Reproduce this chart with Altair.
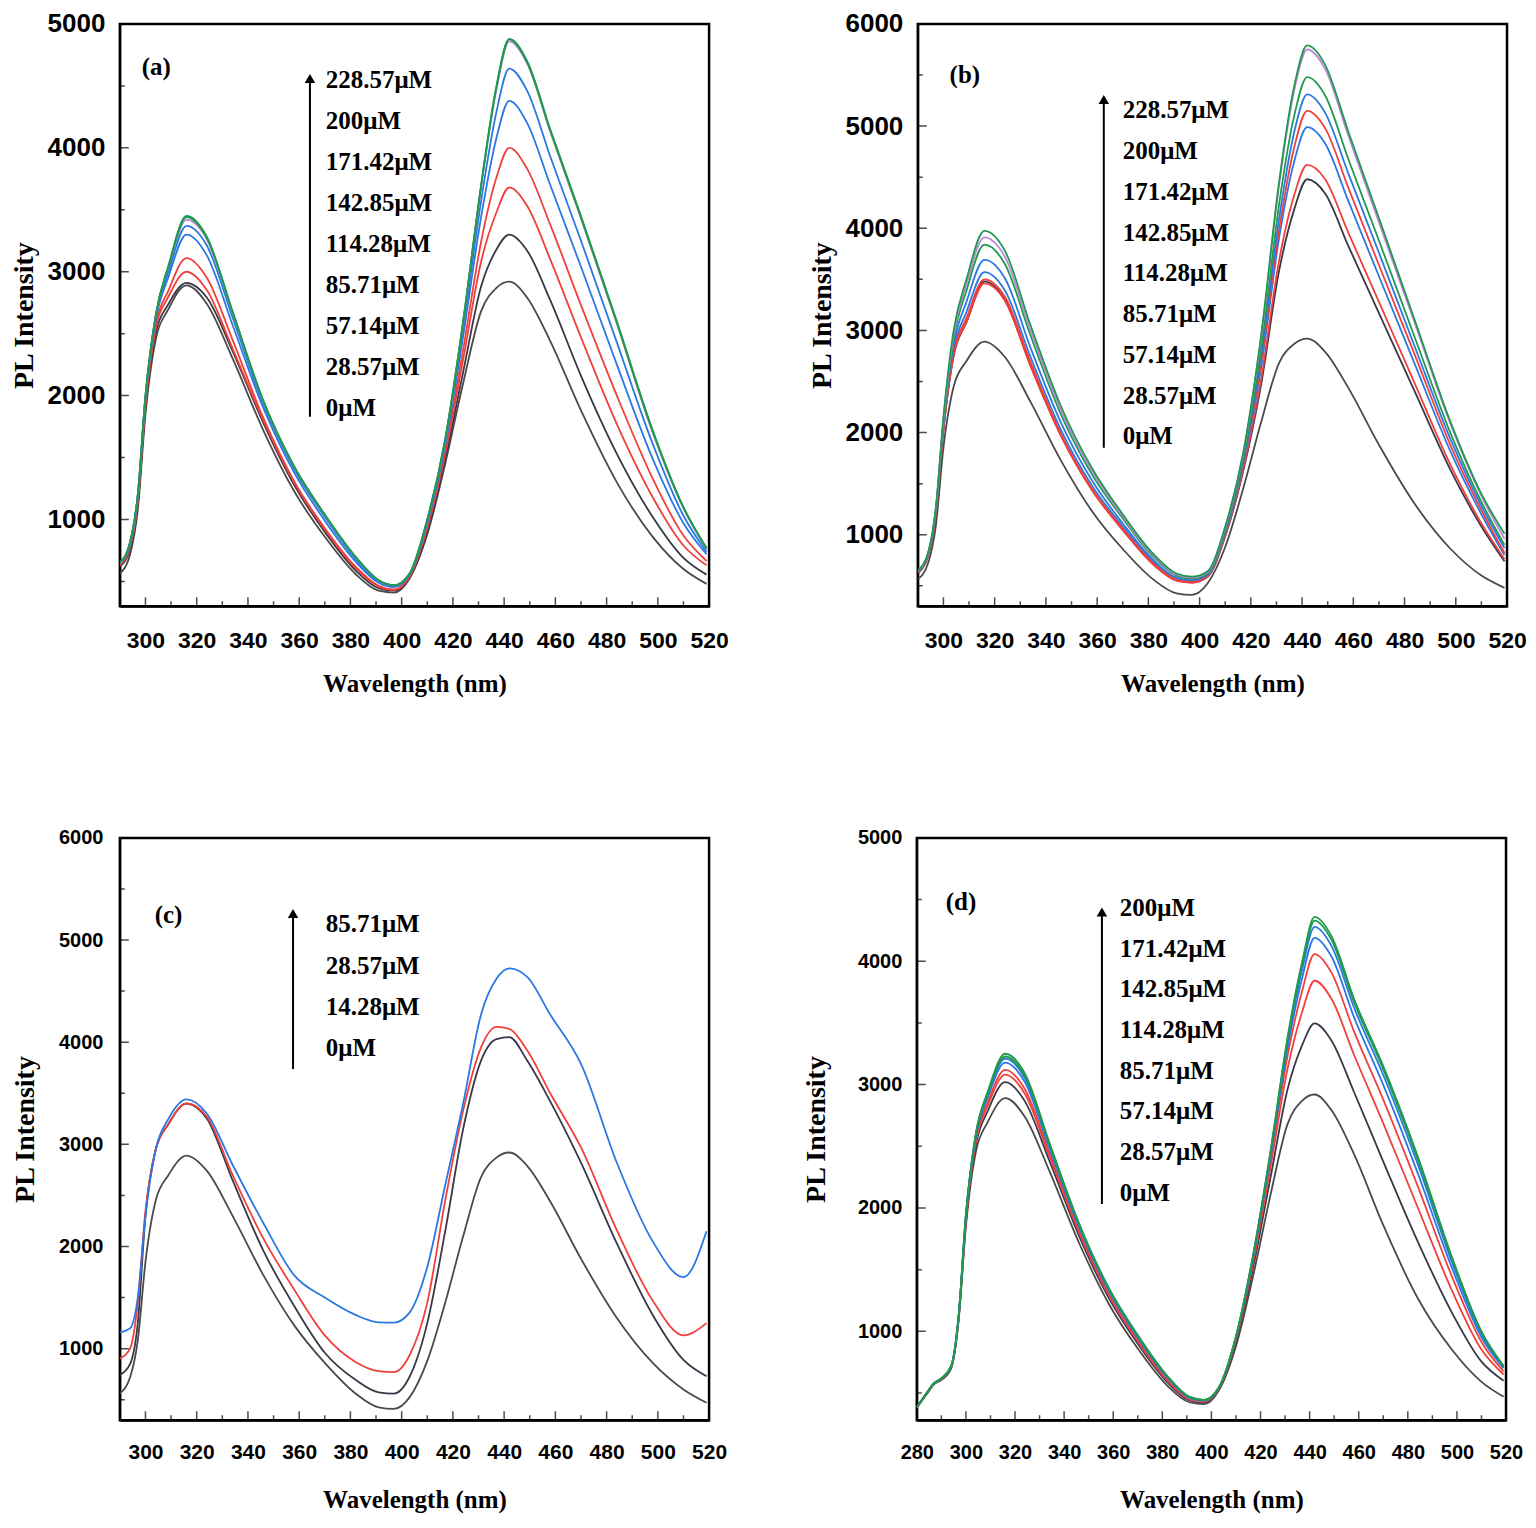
import altair as alt
import pandas as pd

# ---------------- wavelength grids (nm) ----------------
WL = [290, 294, 297, 300, 304, 309, 316, 324, 334, 346, 358, 370, 382, 391, 397, 403,
      410, 417, 424, 431, 437, 442, 449, 458, 470, 484, 498, 510, 519]
WL_D = [280, 284, 287, 290, 294, 297, 300, 304, 309, 316, 324, 334, 346, 358, 370, 382, 391, 397, 403,
        410, 417, 424, 431, 437, 442, 449, 458, 470, 484, 498, 510, 519]

# ---------------- panel (a) ----------------
A_0 = [564, 720, 1080, 1850, 2450, 2700, 2890, 2740, 2300, 1720, 1230, 860, 560, 425, 410, 520,
       880, 1450, 2100, 2680, 2870, 2920, 2790, 2440, 1880, 1300, 860, 600, 480]
A_28 = [620, 760, 1120, 1900, 2500, 2740, 2910, 2790, 2360, 1780, 1280, 900, 590, 445, 425, 530,
        900, 1490, 2190, 2880, 3180, 3300, 3170, 2770, 2160, 1530, 1020, 690, 555]
A_57 = [630, 780, 1150, 1930, 2540, 2800, 3000, 2850, 2380, 1800, 1300, 920, 610, 460, 430, 535,
        930, 1530, 2290, 3080, 3480, 3680, 3530, 3100, 2470, 1770, 1180, 790, 630]
A_85 = [640, 790, 1160, 1950, 2570, 2850, 3110, 2950, 2450, 1820, 1310, 930, 620, 465, 435, 540,
        950, 1560, 2370, 3240, 3760, 4000, 3830, 3380, 2730, 2000, 1330, 870, 665]
A_114 = [645, 800, 1180, 1980, 2610, 2960, 3300, 3130, 2570, 1900, 1380, 990, 660, 490, 455, 550,
         970, 1600, 2480, 3440, 4080, 4380, 4200, 3700, 3040, 2250, 1490, 970, 720]
A_142 = [648, 810, 1190, 1990, 2630, 3000, 3370, 3210, 2630, 1930, 1410, 1020, 680, 500, 462, 555,
         985, 1620, 2540, 3570, 4290, 4640, 4460, 3930, 3250, 2430, 1610, 1030, 740]
A_171 = [650, 815, 1195, 1995, 2645, 3040, 3420, 3260, 2670, 1950, 1425, 1035, 695, 508, 468, 558,
         995, 1640, 2590, 3680, 4470, 4860, 4680, 4130, 3430, 2580, 1700, 1090, 760]
A_200 = [650, 818, 1198, 1998, 2648, 3045, 3440, 3270, 2675, 1955, 1428, 1038, 698, 509, 469, 559,
         998, 1645, 2595, 3690, 4490, 4875, 4690, 4140, 3440, 2590, 1710, 1095, 765]
A_228 = [650, 820, 1200, 2000, 2650, 3050, 3450, 3280, 2680, 1960, 1430, 1040, 700, 510, 470, 560,
         1000, 1650, 2600, 3700, 4500, 4880, 4700, 4150, 3450, 2600, 1720, 1100, 770]

# ---------------- panel (b) ----------------
B_0 = [564, 720, 1080, 1850, 2450, 2700, 2890, 2740, 2300, 1720, 1230, 860, 560, 425, 410, 520,
       880, 1450, 2100, 2680, 2870, 2920, 2790, 2440, 1880, 1300, 860, 600, 480]
B_28 = [625, 790, 1195, 2020, 2750, 3080, 3480, 3300, 2660, 1970, 1440, 1050, 710, 552, 532, 585,
        985, 1620, 2470, 3580, 4190, 4480, 4340, 3830, 3170, 2400, 1630, 1080, 740]
B_57 = [630, 795, 1200, 2030, 2760, 3080, 3460, 3290, 2650, 1960, 1435, 1045, 705, 550, 530, 585,
        990, 1640, 2520, 3680, 4330, 4620, 4480, 3960, 3280, 2480, 1680, 1110, 760]
B_85 = [638, 805, 1220, 2060, 2810, 3180, 3570, 3390, 2740, 2020, 1480, 1080, 730, 570, 548, 600,
        1010, 1680, 2630, 3900, 4660, 4990, 4830, 4270, 3530, 2670, 1810, 1200, 800]
B_114 = [635, 800, 1210, 2040, 2780, 3120, 3500, 3330, 2690, 1980, 1450, 1060, 720, 560, 540, 595,
         1020, 1700, 2680, 3980, 4800, 5150, 4980, 4400, 3640, 2760, 1870, 1240, 820]
B_142 = [640, 810, 1230, 2080, 2860, 3280, 3690, 3510, 2830, 2090, 1530, 1110, 750, 580, 555, 605,
         1030, 1720, 2740, 4090, 4950, 5310, 5130, 4540, 3760, 2840, 1930, 1280, 870]
B_171 = [645, 815, 1240, 2110, 2920, 3390, 3840, 3650, 2950, 2170, 1590, 1160, 780, 600, 570, 620,
         1050, 1750, 2820, 4230, 5110, 5480, 5300, 4680, 3880, 2930, 1990, 1320, 900]
B_200 = [648, 818, 1245, 2130, 2960, 3450, 3910, 3720, 3000, 2210, 1620, 1180, 795, 610, 580, 630,
         1070, 1790, 2930, 4420, 5360, 5750, 5560, 4910, 4060, 3070, 2080, 1380, 960]
B_228 = [650, 820, 1250, 2150, 3000, 3500, 3975, 3780, 3050, 2250, 1650, 1200, 810, 620, 590, 640,
         1080, 1800, 2950, 4450, 5400, 5790, 5600, 4950, 4100, 3100, 2100, 1400, 1010]

# ---------------- panel (c) ----------------
C_0 = [564, 720, 1080, 1850, 2450, 2700, 2890, 2740, 2300, 1720, 1230, 860, 560, 425, 410, 520,
       880, 1450, 2100, 2680, 2870, 2920, 2790, 2440, 1880, 1300, 860, 600, 470]
C_14 = [742, 850, 1250, 2300, 2950, 3200, 3400, 3250, 2650, 1960, 1420, 960, 695, 572, 560, 720,
        1250, 2150, 3150, 3820, 4030, 4050, 3820, 3420, 2820, 2030, 1330, 890, 730]
C_28 = [903, 1000, 1450, 2350, 2950, 3200, 3400, 3270, 2700, 2080, 1580, 1130, 870, 780, 770, 930,
        1450, 2450, 3330, 3950, 4150, 4130, 3920, 3500, 2970, 2160, 1470, 1130, 1250]
C_85 = [1160, 1200, 1500, 2300, 2950, 3250, 3440, 3300, 2800, 2230, 1720, 1500, 1330, 1258, 1255, 1350,
        1800, 2600, 3400, 4272, 4620, 4723, 4640, 4270, 3788, 2820, 2050, 1700, 2150]

# ---------------- panel (d) ----------------
D_0 = [380, 490, 570, 605, 700, 1080, 1850, 2450, 2700, 2890, 2740, 2300, 1720, 1230, 860, 560, 425, 410, 520,
       880, 1450, 2100, 2680, 2870, 2920, 2790, 2440, 1860, 1270, 850, 590, 470]
D_28 = [382, 494, 574, 610, 707, 1094, 1886, 2504, 2790, 3020, 2866, 2383, 1778, 1277, 900, 589, 441, 423, 529,
        912, 1518, 2240, 2960, 3322, 3496, 3354, 2944, 2376, 1730, 1150, 754, 600]
D_57 = [383, 495, 575, 613, 711, 1101, 1903, 2530, 2833, 3081, 2926, 2422, 1805, 1299, 918, 602, 449, 429, 533,
        931, 1559, 2324, 3128, 3593, 3842, 3692, 3246, 2686, 2006, 1330, 852, 650]
D_85 = [383, 496, 576, 615, 713, 1106, 1914, 2546, 2860, 3120, 2964, 2447, 1822, 1313, 930, 611, 454, 432, 536,
        943, 1584, 2377, 3233, 3763, 4058, 3904, 3435, 2879, 2179, 1443, 914, 675]
D_114 = [384, 498, 578, 617, 716, 1112, 1930, 2570, 2900, 3178, 3020, 2484, 1848, 1334, 948, 624, 461, 438, 540,
         951, 1600, 2409, 3297, 3867, 4190, 4034, 3551, 2998, 2284, 1512, 952, 700]
D_142 = [384, 499, 579, 618, 718, 1116, 1939, 2584, 2923, 3210, 3052, 2505, 1862, 1346, 958, 631, 465, 441, 542,
         955, 1610, 2430, 3341, 3937, 4279, 4121, 3629, 3078, 2356, 1558, 977, 710]
D_171 = [385, 499, 579, 619, 719, 1118, 1944, 2591, 2935, 3228, 3069, 2516, 1870, 1352, 963, 635, 467, 443, 544,
         958, 1616, 2443, 3365, 3976, 4330, 4170, 3674, 3123, 2396, 1584, 991, 715]
D_200 = [385, 500, 580, 620, 720, 1120, 1950, 2600, 2950, 3250, 3090, 2530, 1880, 1360, 970, 640, 470, 445, 545,
         960, 1620, 2450, 3380, 4000, 4360, 4200, 3700, 3150, 2420, 1600, 1000, 720]

# ---------------- labels ----------------
LEG_A = ["228.57μM", "200μM", "171.42μM", "142.85μM", "114.28μM", "85.71μM", "57.14μM", "28.57μM", "0μM"]
LEG_B = ["228.57μM", "200μM", "171.42μM", "142.85μM", "114.28μM", "85.71μM", "57.14μM", "28.57μM", "0μM"]
LEG_C = ["85.71μM", "28.57μM", "14.28μM", "0μM"]
LEG_D = ["200μM", "171.42μM", "142.85μM", "114.28μM", "85.71μM", "57.14μM", "28.57μM", "0μM"]

X_TICKS = [300, 320, 340, 360, 380, 400, 420, 440, 460, 480, 500, 520]
X_MINOR = [290, 310, 330, 350, 370, 390, 410, 430, 450, 470, 490, 510]
X_TICKS_D = [280, 300, 320, 340, 360, 380, 400, 420, 440, 460, 480, 500, 520]
X_MINOR_D = [290, 310, 330, 350, 370, 390, 410, 430, 450, 470, 490, 510]
Y_TICKS_5 = [1000, 2000, 3000, 4000, 5000]
Y_MINOR_5 = [500, 1500, 2500, 3500, 4500]
Y_TICKS_6 = [1000, 2000, 3000, 4000, 5000, 6000]
Y_MINOR_6 = [500, 1500, 2500, 3500, 4500, 5500]

GRAY0 = "#4a4a4a"
GRAY1 = "#383848"
RED = "#f0403c"
BLUE = "#2a78e4"
GREEN = "#1f9a4e"
VIOLET = "#c184d8"

W, H = 590, 583
SANS = "Liberation Sans"
SERIF = "Liberation Serif"


def make_panel(wl, series, colors, xdom, ydom, xt, xm, yt, ym, tag, tag_xy, labels, leg_x, leg_y,
               arrow, ylab_size, xlab_size, ylab_pad, ytitle_pad, xlab_pad, xtitle_pad):
    rows = []
    for i, (vals, col) in enumerate(zip(series, colors)):
        assert len(vals) == len(wl), (tag, i, len(vals), len(wl))
        for w, v in zip(wl, vals):
            rows.append({"wl": w, "v": v, "s": f"s{i}", "c": col})
    df = pd.DataFrame(rows)

    xscale = alt.Scale(domain=xdom, nice=False, zero=False)
    yscale = alt.Scale(domain=ydom, nice=False, zero=False)

    xaxis = alt.Axis(values=xt, title="Wavelength (nm)", grid=False, tickSize=0,
                     labelFont=SANS, labelFontWeight="bold", labelFontSize=xlab_size, labelColor="black",
                     labelPadding=xlab_pad, labelFlush=False, labelOverlap=False,
                     titleFont=SERIF, titleFontWeight="bold", titleFontSize=25, titleColor="black",
                     titlePadding=xtitle_pad, domainColor="black", domainWidth=2)
    yaxis = alt.Axis(values=yt, title="PL Intensity", grid=False, tickSize=0, format="d",
                     labelFont=SANS, labelFontWeight="bold", labelFontSize=ylab_size, labelColor="black",
                     labelPadding=ylab_pad, labelFlush=False, labelOverlap=False,
                     titleFont=SERIF, titleFontWeight="bold", titleFontSize=28, titleColor="black",
                     titlePadding=ytitle_pad, domainColor="black", domainWidth=2)

    def X(field):
        return alt.X(field, type="quantitative", scale=xscale, axis=xaxis)

    def Y(field):
        return alt.Y(field, type="quantitative", scale=yscale, axis=yaxis)

    lines = alt.Chart(df).mark_line(interpolate="monotone", strokeWidth=1.8, clip=True).encode(
        x=X("wl"), y=Y("v"),
        color=alt.Color("c:N", scale=None),
        detail="s:N",
        order="wl:Q",
    )

    def xticks(vals, size):
        d = pd.DataFrame({"wl": vals, "v": [ydom[0]] * len(vals)})
        return alt.Chart(d).mark_tick(orient="vertical", size=size, thickness=1.5, color="black",
                                      clip=True).encode(x=X("wl"), y=Y("v"))

    def yticks(vals, size):
        d = pd.DataFrame({"v": vals, "wl": [xdom[0]] * len(vals)})
        return alt.Chart(d).mark_tick(orient="horizontal", size=size, thickness=1.5, color="black",
                                      clip=True).encode(x=X("wl"), y=Y("v"))

    ax, ay0, ay1 = arrow
    arr = pd.DataFrame({"wl": [ax], "v": [ay0], "v2": [ay1]})
    rule = alt.Chart(arr).mark_rule(color="black", strokeWidth=2).encode(
        x=X("wl"), y=Y("v"), y2="v2:Q")
    head = alt.Chart(arr).mark_point(shape="triangle-up", filled=True, color="black", opacity=1,
                                     size=110).encode(x=X("wl"), y=Y("v2"))

    tdf = pd.DataFrame({"wl": [tag_xy[0]], "v": [tag_xy[1]], "t": [tag]})
    tagtext = alt.Chart(tdf).mark_text(align="left", baseline="middle", font=SERIF, fontWeight="bold",
                                       fontSize=25, color="black").encode(
        x=X("wl"), y=Y("v"), text="t:N")

    ldf = pd.DataFrame({"wl": [leg_x] * len(labels), "v": leg_y, "t": labels})
    legtext = alt.Chart(ldf).mark_text(align="left", baseline="middle", font=SERIF, fontWeight="bold",
                                       fontSize=25, color="black").encode(
        x=X("wl"), y=Y("v"), text="t:N")

    return alt.layer(lines, xticks(xt, 18), xticks(xm, 10), yticks(yt, 18), yticks(ym, 10),
                     rule, head, tagtext, legtext).properties(width=W, height=H)


pa = make_panel(WL, [A_0, A_28, A_57, A_85, A_114, A_142, A_171, A_200, A_228],
                [GRAY0, GRAY1, RED, RED, BLUE, BLUE, VIOLET, GREEN, GREEN],
                [290, 520], [300, 5000], X_TICKS, X_MINOR, Y_TICKS_5, Y_MINOR_5,
                "(a)", (298.5, 4649), LEG_A, 370.4,
                [4545, 4214, 3883, 3552, 3221, 2890, 2559, 2228, 1897],
                (364.2, 1830, 4560), 26, 23, 15, 9, 23, 19)

pb = make_panel(WL, [B_0, B_28, B_57, B_85, B_114, B_142, B_171, B_200, B_228],
                [GRAY0, GRAY1, RED, BLUE, RED, BLUE, GREEN, VIOLET, GREEN],
                [290, 520], [300, 6000], X_TICKS, X_MINOR, Y_TICKS_6, Y_MINOR_6,
                "(b)", (302.4, 5497), LEG_B, 370.0,
                [5154, 4755, 4356, 3957, 3558, 3159, 2760, 2361, 1962],
                (362.6, 1851, 5260), 26, 23, 15, 9, 23, 19)

pc = make_panel(WL, [C_0, C_14, C_28, C_85],
                [GRAY0, GRAY1, RED, BLUE],
                [290, 520], [300, 6000], X_TICKS, X_MINOR, Y_TICKS_6, Y_MINOR_6,
                "(c)", (303.6, 5246), LEG_C, 370.4,
                [5153, 4749, 4345, 3941],
                (357.6, 3737, 5260), 20, 21, 17, 19, 21, 25)

pd_ = make_panel(WL_D, [D_0, D_28, D_57, D_85, D_114, D_142, D_171, D_200],
                 [GRAY0, GRAY1, RED, RED, BLUE, BLUE, GREEN, GREEN],
                 [280, 520], [280, 5000], X_TICKS_D, X_MINOR_D, Y_TICKS_5, Y_MINOR_5,
                 "(d)", (291.8, 4480), LEG_D, 362.7,
                 [4432, 4102, 3772, 3442, 3112, 2782, 2452, 2122],
                 (355.4, 2032, 4400), 20, 20, 15, 27, 22, 25)

top = alt.hconcat(pa, pb, spacing=76)
bottom = alt.hconcat(pc, pd_, spacing=73)
chart = alt.vconcat(top, bottom, spacing=128).properties(
    padding={"left": 0, "top": 0, "right": 0, "bottom": 0},
    background="white",
).configure_view(stroke="black", strokeWidth=2.5)

chart.save("out.html", embed_options={"renderer": "svg", "actions": False})
